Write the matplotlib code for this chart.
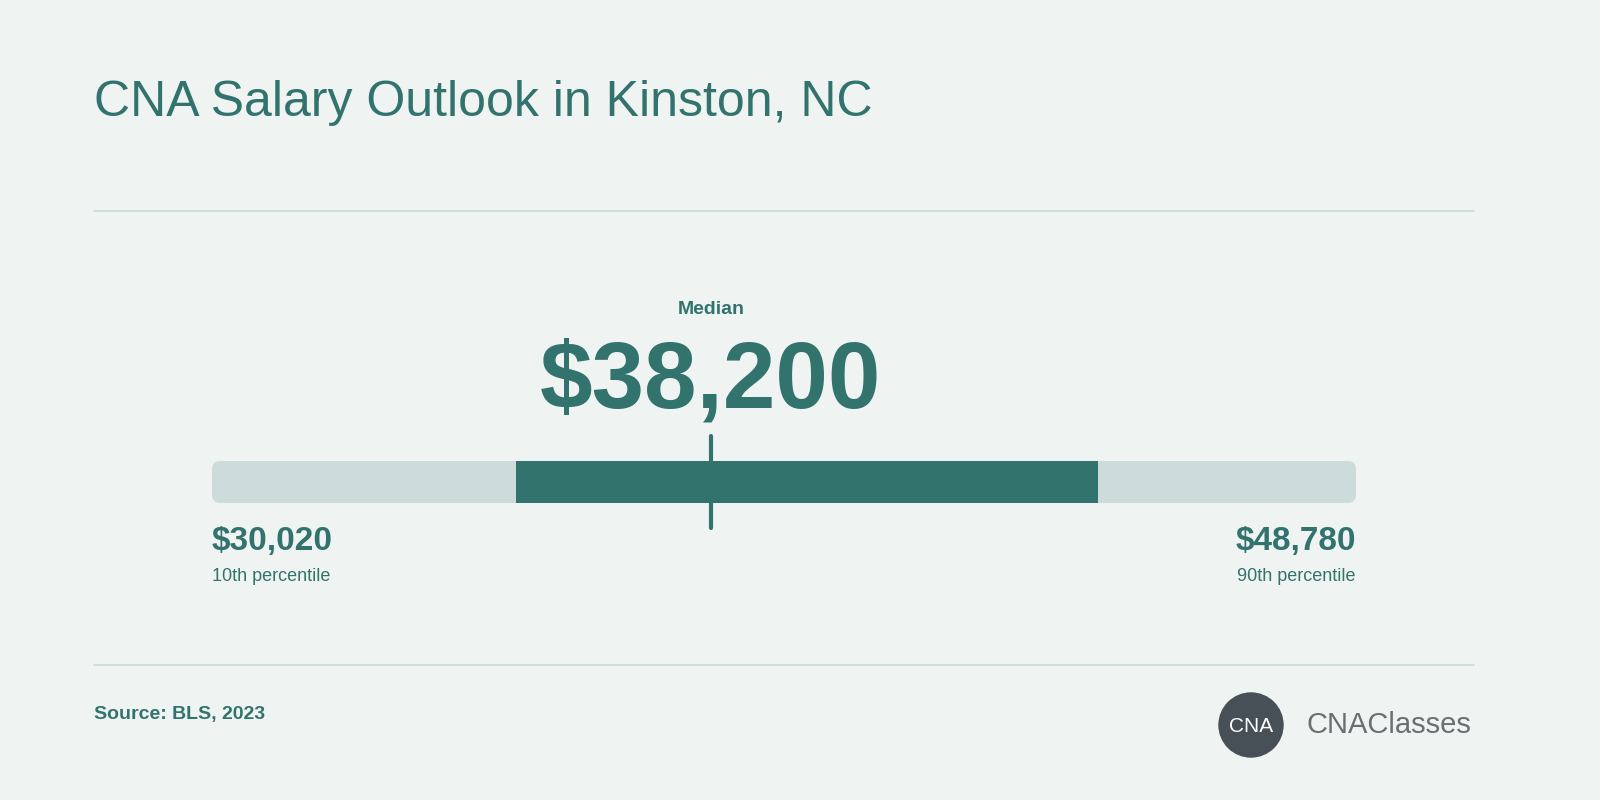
import matplotlib
matplotlib.use("Agg")
import matplotlib.pyplot as plt
from matplotlib.patches import FancyBboxPatch, Circle

plt.rcParams['font.family'] = ['Liberation Sans', 'DejaVu Sans']

title = "CNA Salary Outlook in Kinston, NC"
p10 = 30020
p25 = 35000
median = 38200
p75 = 44550
p90 = 48780
source = "Source: BLS, 2023"

BG = "#eff4f2"
TEAL = "#33736e"
LIGHT = "#cddcdb"

fig = plt.figure(figsize=(16, 8), dpi=100, facecolor=BG)

# overlay axes in pixel coordinates for text and rules
ov = fig.add_axes([0, 0, 1, 1])
ov.set_xlim(0, 1600)
ov.set_ylim(800, 0)
ov.axis("off")

ov.text(94, 103, title, fontsize=36, color=TEAL, va="center", ha="left")
ov.plot([94, 1474], [211, 211], color="#c9d9d6", lw=1.2)
ov.plot([94, 1474], [665, 665], color="#c9d9d6", lw=1.2)
ov.text(94, 714, source, fontsize=14, color=TEAL, weight="bold", va="center")

# logo
ov.add_patch(Circle((1251, 725), 32, color="#474f57"))
ov.text(1251, 726, "CNA", color="white", fontsize=15, ha="center", va="center")
ov.text(1307, 725, "CNAClasses", color="#6b6f73", fontsize=21, ha="left", va="center")

# bar axes in salary units
ax = fig.add_axes([212 / 1600, (800 - 503) / 800, 1144 / 1600, 42 / 800])
ax.set_xlim(p10, p90)
ax.set_ylim(0, 1)
ax.axis("off")
ax.patch.set_alpha(0)

xr = (p90 - p10) / 1144 * 8
ax.add_patch(FancyBboxPatch((p10, 0), p90 - p10, 1,
                            boxstyle=f"round,pad=0,rounding_size={xr}",
                            mutation_aspect=(8 / 42) / xr,
                            color=LIGHT, lw=0))
ax.barh(0.5, p75 - p25, left=p25, height=1, color=TEAL)
ax.plot([median, median], [-0.6, 1.6], color=TEAL, lw=3, clip_on=False,
        solid_capstyle="round")

ax.text(median, 1.8, f"${median:,}", transform=ax.transData, fontsize=68,
        weight="bold", color=TEAL, ha="center", va="bottom")
ax.text(median, 4.4, "Median", fontsize=14, weight="bold", color=TEAL,
        ha="center", va="bottom")

ax.text(p10, -0.55, f"${p10:,}", fontsize=24, weight="bold", color=TEAL,
        ha="left", va="top")
ax.text(p10, -1.55, "10th percentile", fontsize=13, color=TEAL, ha="left", va="top")
ax.text(p90, -0.55, f"${p90:,}", fontsize=24, weight="bold", color=TEAL,
        ha="right", va="top")
ax.text(p90, -1.55, "90th percentile", fontsize=13, color=TEAL, ha="right", va="top")

fig.savefig("out.png", dpi=100, facecolor=BG)
